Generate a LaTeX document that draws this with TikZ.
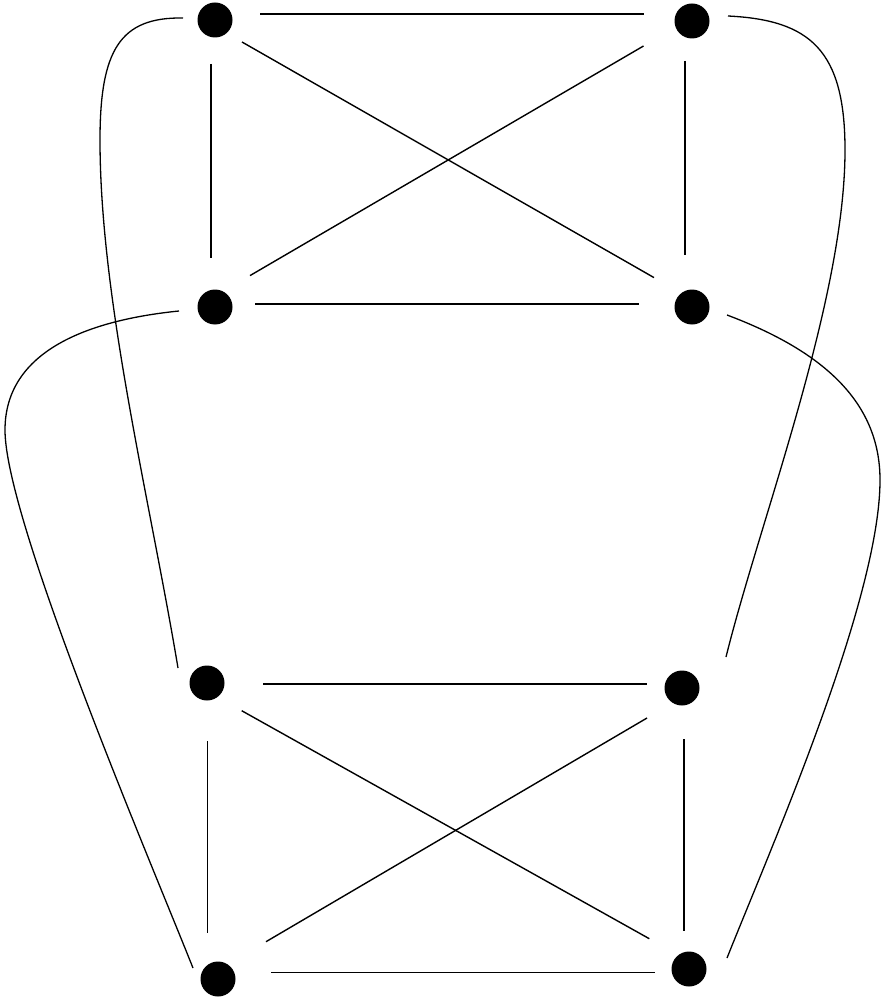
\documentclass[tikz,border=0pt]{standalone}
\usetikzlibrary{calc}
\begin{document}
\begin{tikzpicture}[x=1pt,y=-1pt,
  vtx/.style={circle,fill=black,draw=none,minimum size=35pt,inner sep=0pt},
  edge/.style={line width=1.4pt,black},
  arc/.style={line width=1.3pt,black}]
\useasboundingbox (0,0) rectangle (886,1000);
\fill[white] (0,0) rectangle (886,1000);
% top K4
\node[vtx] (A) at (215,20) {};
\node[vtx] (B) at (692,21) {};
\node[vtx] (C) at (215,307) {};
\node[vtx] (D) at (692,307) {};
% bottom K4
\node[vtx] (E) at (207,683) {};
\node[vtx] (F) at (682,688) {};
\node[vtx] (G) at (218,979) {};
\node[vtx] (H) at (689,969) {};
% straight edges, top
\draw[edge] ($(A)+(45,-6)$) -- ($(B)+(-48.5,-7)$);
\draw[edge] ($(C)+(40,-3)$) -- ($(D)+(-53,-3)$);
\draw[edge] ($(A)+(-4,44)$) -- ($(C)+(-4,-49.5)$);
\draw[edge] ($(B)+(-7,40)$) -- ($(D)+(-7,-52)$);
\draw[edge] ($(A)+(27,22)$) -- ($(D)+(-38,-29.4)$);
\draw[edge] ($(B)+(-48.5,25)$) -- ($(C)+(35,-31.4)$);
% straight edges, bottom
\draw[edge] ($(E)+(56,1)$) -- ($(F)+(-35,-4)$);
\draw[edge] ($(G)+(53,-6.3)$) -- ($(H)+(-34.5,3.7)$);
\draw[edge] ($(E)+(0.6,58)$) -- ($(G)+(-10.4,-46)$);
\draw[edge] ($(F)+(2,51)$) -- ($(H)+(-5,-38)$);
\draw[edge] ($(E)+(34.7,27.7)$) -- ($(H)+(-39.7,-30.3)$);
\draw[edge] ($(F)+(-35,30)$) -- ($(G)+(48,-37.3)$);
% long curves
\draw[arc] ($(A)+(-32,-2)$) .. controls (120,17) and (100,50) .. (100,140)
  .. controls (100,300) and (150,500) .. ($(E)+(-29,-15)$);
\draw[arc] ($(B)+(36,-5)$) .. controls (810,20) and (845,50) .. (845,150)
  .. controls (845,300) and (760,520) .. ($(F)+(44,-31)$);
\draw[arc] ($(C)+(-36,4)$) .. controls (90,320) and (5,350) .. (5,430)
  .. controls (5,520) and (150,860) .. ($(G)+(-25,-11)$);
\draw[arc] ($(D)+(35,8)$) .. controls (820,350) and (880,400) .. (880,480)
  .. controls (880,600) and (770,850) .. ($(H)+(38,-11)$);
\end{tikzpicture}
\end{document}
